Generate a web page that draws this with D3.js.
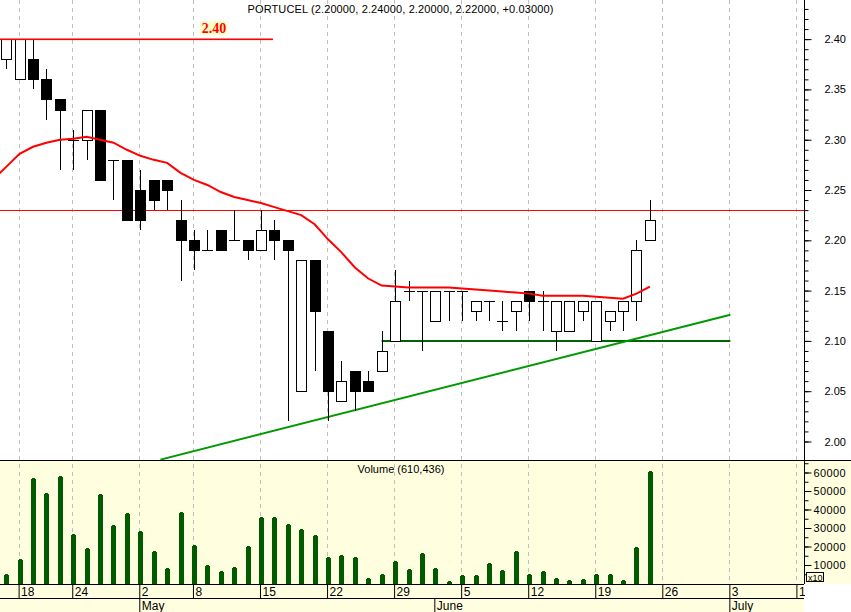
<!DOCTYPE html>
<html><head><meta charset="utf-8">
<script src="https://cdnjs.cloudflare.com/ajax/libs/d3/7.8.5/d3.min.js"></script>
<style>
body{margin:0;background:#fff}
svg{display:block}
</style>
</head><body>
<svg id="c" width="851" height="612"></svg>
<script>
// ---------------- DATA ----------------
const dates = ["Apr 13","Apr 18","Apr 19","Apr 20","Apr 21","Apr 24","Apr 25","Apr 26","Apr 27","Apr 28",
  "May 2","May 3","May 4","May 5","May 8","May 9","May 10","May 11","May 12","May 15","May 16","May 17","May 18","May 19",
  "May 22","May 23","May 24","May 25","May 26","May 29","May 30","May 31","Jun 1","Jun 2","Jun 5","Jun 6","Jun 7","Jun 8","Jun 9",
  "Jun 12","Jun 13","Jun 14","Jun 15","Jun 16","Jun 19","Jun 20","Jun 21","Jun 22","Jun 23"];
const openP  = [2.38,2.36,2.38,2.36,2.34,2.30,2.30,2.33,2.28,2.28,2.25,2.26,2.26,2.22,2.20,2.19,2.21,2.20,2.20,2.19,2.21,2.20,2.05,2.18,2.11,2.04,2.07,2.06,2.07,2.10,2.15,2.15,2.12,2.15,2.15,2.13,2.14,2.12,2.13,2.15,2.14,2.11,2.11,2.13,2.10,2.12,2.13,2.14,2.20];
const highP  = [2.40,2.40,2.40,2.37,2.34,2.31,2.33,2.33,2.28,2.28,2.27,2.26,2.26,2.24,2.21,2.21,2.21,2.23,2.20,2.23,2.22,2.20,2.18,2.18,2.11,2.08,2.07,2.07,2.11,2.17,2.16,2.15,2.15,2.15,2.15,2.14,2.14,2.14,2.14,2.15,2.15,2.14,2.14,2.14,2.14,2.13,2.14,2.20,2.24];
const lowP   = [2.37,2.36,2.35,2.32,2.27,2.27,2.28,2.26,2.24,2.22,2.21,2.23,2.23,2.16,2.17,2.19,2.19,2.20,2.18,2.19,2.18,2.02,2.05,2.07,2.02,2.04,2.03,2.05,2.07,2.10,2.14,2.09,2.12,2.12,2.12,2.12,2.12,2.11,2.11,2.12,2.11,2.09,2.11,2.12,2.10,2.11,2.11,2.12,2.20];
const closeP = [2.40,2.40,2.36,2.34,2.33,2.30,2.33,2.26,2.28,2.22,2.22,2.24,2.25,2.20,2.19,2.19,2.19,2.20,2.19,2.21,2.20,2.19,2.18,2.13,2.05,2.06,2.05,2.05,2.09,2.14,2.15,2.15,2.15,2.15,2.15,2.14,2.14,2.12,2.14,2.14,2.14,2.14,2.14,2.14,2.14,2.13,2.14,2.19,2.22];
const volume = [5000,13000,57200,48700,58300,26600,19300,48200,31400,38300,28200,17400,8200,38800,20800,9800,6900,8700,20400,35800,35800,32300,29300,26200,14100,15200,14100,2800,5000,12000,8000,16300,8200,1200,4400,4400,10900,7100,17700,5300,6900,3100,2000,2200,5300,5300,2000,19700,61044];
// moving average, starting at trading-day index -1
const maStart = -1;
const maValues = [2.260,2.273,2.286,2.293,2.297,2.300,2.301,2.303,2.300,2.297,2.290,2.284,2.280,2.277,2.267,2.260,2.255,2.248,2.243,2.240,2.237,2.233,2.229,2.225,2.216,2.201,2.188,2.173,2.162,2.155,2.154,2.153,2.153,2.153,2.153,2.152,2.151,2.150,2.149,2.148,2.147,2.145,2.145,2.145,2.145,2.144,2.143,2.142,2.147,2.154];
// week ticks (trading-day index) and labels
const weekIdx = [1,5,10,14,19,24,29,34,39,44,49,54,59];
const weekLabels = ["18","24","2","8","15","22","29","5","12","19","26","3","10"];
const monthIdx = [10,32,54];
const monthLabels = ["May","June","July"];
const priceTicks = [2.00,2.05,2.10,2.15,2.20,2.25,2.30,2.35,2.40];
const volTicks = [10000,20000,30000,40000,50000,60000];
// drawn lines (index, price)
const resistIdx = [-0.5, 19.9], resistPrice = 2.40;
const refPrice = 2.23;
const supportIdx = [28, 54], supportPrice = 2.10;
const trendIdx = [11.5, 54], trendPrice = [1.982, 2.126];
const title = "PORTUCEL (2.20000, 2.24000, 2.20000, 2.22000, +0.03000)";
const volTitle = "Volume (610,436)";

// ---------------- LAYOUT ----------------
const SANS = "'Liberation Sans',Arial,sans-serif";
const W = 851, H = 612;
const plotR = 804, priceB = 460, volT = 461, volB = 583.5, axisY = 584, rowY = 598;
const svg = d3.select("#c");
const x = d3.scaleLinear().domain([0, 48]).range([6.2, 649.9]);
const y = d3.scaleLinear().domain([1.9816, 2.4389]).range([460, 0]);
const yv = d3.scaleLinear().domain([0, 66216]).range([volB, volT]);
const px = v => Math.round(v) + 0.5;

svg.append("defs").append("clipPath").attr("id","cp").append("rect")
  .attr("x",0).attr("y",0).attr("width",plotR).attr("height",priceB);

// backgrounds
svg.append("rect").attr("x",0).attr("y",0).attr("width",W).attr("height",H).attr("fill","#fff");
svg.append("rect").attr("x",0).attr("y",volT).attr("width",W).attr("height",volB-volT+0.5).attr("fill","#ffffe0");
svg.append("rect").attr("x",0).attr("y",axisY).attr("width",plotR).attr("height",H-axisY).attr("fill","#ffffe0");

// grid lines
svg.append("g").selectAll("line").data(weekIdx).join("line")
  .attr("x1",d=>px(x(d))-1).attr("x2",d=>px(x(d))-1)
  .attr("y1",0).attr("y2",axisY)
  .attr("stroke","#c0c0c0").attr("stroke-dasharray","4,4").attr("stroke-width",1);

// title
svg.append("text").attr("x",400.5).attr("y",13).attr("text-anchor","middle")
  .style("font-family",SANS).style("font-size","11px").style("letter-spacing","0.12px")
  .attr("fill","#000").text(title);

const pg = svg.append("g").attr("clip-path","url(#cp)");

// reference lines
pg.append("rect").attr("x",0).attr("width",plotR).attr("y",Math.round(y(refPrice))).attr("height",1)
  .attr("fill","#ff0000");
pg.append("line").attr("x1",x(supportIdx[0])).attr("x2",x(supportIdx[1]))
  .attr("y1",Math.round(y(supportPrice))).attr("y2",Math.round(y(supportPrice)))
  .attr("stroke","#006400").attr("stroke-width",2);
pg.append("line").attr("x1",x(trendIdx[0])).attr("x2",x(trendIdx[1]))
  .attr("y1",y(trendPrice[0])).attr("y2",y(trendPrice[1]))
  .attr("stroke","#009900").attr("stroke-width",2);

// candles
const idx = d3.range(openP.length);
const cg = pg.append("g");
cg.selectAll("line.w").data(idx).join("line").attr("class","w")
  .attr("x1",i=>px(x(i))).attr("x2",i=>px(x(i)))
  .attr("y1",i=>Math.round(y(highP[i]))).attr("y2",i=>Math.round(y(lowP[i])))
  .attr("stroke","#000").attr("stroke-width",1);
cg.selectAll("rect.b").data(idx.filter(i=>openP[i]!==closeP[i])).join("rect").attr("class","b")
  .attr("x",i=>Math.round(x(i))-5+0.5).attr("width",10)
  .attr("y",i=>Math.round(y(Math.max(openP[i],closeP[i])))+0.5)
  .attr("height",i=>Math.round(y(Math.min(openP[i],closeP[i])))-Math.round(y(Math.max(openP[i],closeP[i]))))
  .attr("fill",i=>closeP[i]>openP[i]?"#fff":"#000").attr("stroke","#000").attr("stroke-width",1);
cg.selectAll("line.d").data(idx.filter(i=>openP[i]===closeP[i])).join("line").attr("class","d")
  .attr("x1",i=>Math.round(x(i))-5).attr("x2",i=>Math.round(x(i))+6)
  .attr("y1",i=>px(y(closeP[i]))).attr("y2",i=>px(y(closeP[i])))
  .attr("stroke","#000").attr("stroke-width",1);

// resistance line at 2.40 (drawn over candles)
pg.append("rect").attr("x",0).attr("width",x(resistIdx[1])).attr("y",Math.round(y(resistPrice))-0.5).attr("height",1.6)
  .attr("fill","#ff0000");

// moving average
const maLine = d3.line().x((d,k)=>x(maStart+k)).y(d=>y(d));
pg.append("path").datum(maValues).attr("d",maLine).attr("fill","none")
  .attr("stroke","#ff0000").attr("stroke-width",2);

// 2.40 label
const lbl = svg.append("g");
lbl.append("rect").attr("x",200).attr("y",21).attr("width",28).attr("height",14).attr("fill","#ffffc8");
lbl.append("text").attr("x",214).attr("y",33).attr("text-anchor","middle")
  .style("font-family","'Liberation Serif','DejaVu Serif',serif").style("font-weight","bold")
  .style("font-size","14px").attr("fill","#ff0000").text(resistPrice.toFixed(2));

// volume bars
svg.append("g").selectAll("path").data(idx).join("path")
  .attr("d",i=>{
    const c = Math.round(x(i)), t = Math.round(yv(volume[i])), b = volB+0.5;
    return `M${c-2},${b}V${t+1}H${c-1}V${t}H${c+2}V${t+1}H${c+3}V${b}Z`;
  })
  .attr("fill","#005a00");

// separators
svg.append("line").attr("x1",0).attr("x2",W).attr("y1",460.5).attr("y2",460.5).attr("stroke","#000");
svg.append("line").attr("x1",0).attr("x2",plotR).attr("y1",axisY+0.5).attr("y2",axisY+0.5).attr("stroke","#000");
svg.append("line").attr("x1",0).attr("x2",plotR).attr("y1",rowY+0.5).attr("y2",rowY+0.5).attr("stroke","#000");

// volume label
svg.append("text").attr("x",401).attr("y",473).attr("text-anchor","middle")
  .style("font-family",SANS).style("font-size","11px").attr("fill","#000").text(volTitle);

// price axis
const pa = svg.append("g").attr("transform",`translate(${plotR+0.5},0)`);
pa.call(d3.axisRight(y).tickValues(d3.range(200,244).map(v=>v/100)).tickSize(4).tickFormat(""));
pa.append("g").call(d3.axisRight(y).tickValues(priceTicks).tickSize(7).tickPadding(13).tickFormat(d3.format(".2f")));
pa.selectAll(".domain").remove();
pa.append("line").attr("x1",0).attr("x2",0).attr("y1",0).attr("y2",axisY).attr("stroke","#000");
pa.selectAll("text").style("font-size","11px").style("font-family",SANS).attr("fill","#000");

// volume axis
const va = svg.append("g").attr("transform",`translate(${plotR+0.5},0)`);
va.call(d3.axisRight(yv).tickValues(d3.range(5000,66000,5000)).tickSize(4).tickFormat(""));
va.append("g").call(d3.axisRight(yv).tickValues(volTicks).tickSize(7).tickPadding(2).tickFormat(d3.format("d")));
va.selectAll(".domain").remove();
va.selectAll("text").style("font-size","11px").style("font-family",SANS).style("letter-spacing","0.4px").attr("fill","#000");
svg.append("rect").attr("x",806.5).attr("y",572.5).attr("width",17).attr("height",9).attr("fill","#ffffe0").attr("stroke","#000");
svg.append("text").attr("x",808).attr("y",580.5).style("font-size","9px").style("font-family",SANS).attr("fill","#000").text("x10");

// x axis: week row
const xa = svg.append("g").attr("transform",`translate(0,${axisY})`);
xa.call(d3.axisBottom(x).tickValues(weekIdx).tickSize(14).tickFormat((d,k)=>weekLabels[k]));
xa.select(".domain").remove();
xa.selectAll(".tick line").attr("transform","translate(-1,0)");
xa.selectAll("text").attr("text-anchor","start").attr("x",1).attr("dy",0).attr("y",11.5)
  .style("font-size","12px").style("font-family",SANS).attr("fill","#000");
// month row
const ma = svg.append("g").attr("transform",`translate(0,${rowY})`);
ma.call(d3.axisBottom(x).tickValues(monthIdx).tickSize(14).tickFormat((d,k)=>monthLabels[k]));
ma.select(".domain").remove();
ma.selectAll(".tick line").attr("transform","translate(-1,0)");
ma.selectAll("text").attr("text-anchor","start").attr("x",1).attr("dy",0).attr("y",12)
  .style("font-size","12px").style("font-family",SANS).attr("fill","#000");
// clip axis area on right
svg.append("rect").attr("x",plotR+1).attr("y",axisY).attr("width",W-plotR).attr("height",H-axisY).attr("fill","#fff");
</script>
</body></html>
